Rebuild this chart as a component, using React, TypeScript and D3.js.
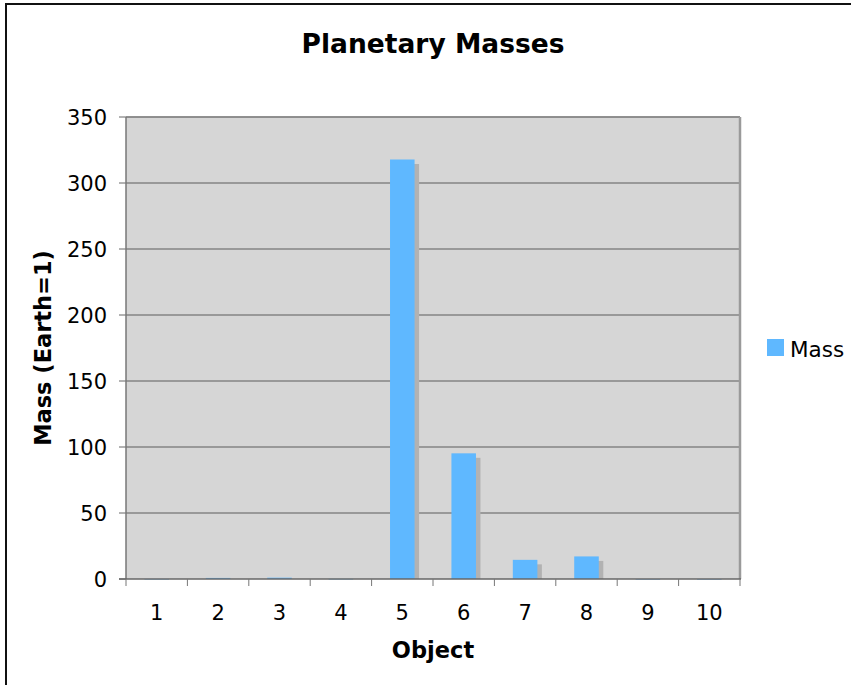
import React from "react";
import * as d3 from "d3";

const categories = ["1", "2", "3", "4", "5", "6", "7", "8", "9", "10"];
const massValues = [0.055, 0.815, 1, 0.107, 317.8, 95.2, 14.5, 17.1, 0.0022, 0.0028];
const yTicks = [0, 50, 100, 150, 200, 250, 300, 350];
const seriesName = "Mass";
const titleText = "Planetary Masses";
const xTitle = "Object";
const yTitle = "Mass (Earth=1)";

const W = 851;
const H = 685;
const plot = { left: 126, right: 740, top: 117, bottom: 579 };
const FONT = "'DejaVu Sans', Verdana, sans-serif";
const BAR = "#5fb8ff";
const SHADOW = "#b2b2b2";

export default function App() {
  const x = d3
    .scaleBand<string>()
    .domain(categories)
    .range([plot.left, plot.right])
    .paddingInner(0.6)
    .paddingOuter(0.3);
  const xCat = d3.scaleBand<string>().domain(categories).range([plot.left, plot.right]);
  const y = d3.scaleLinear().domain([0, 350]).range([plot.bottom, plot.top]);
  const bw = x.bandwidth();
  const cx = (plot.left + plot.right) / 2;
  const cy = (plot.top + plot.bottom) / 2;

  return (
    <svg
      width={W}
      height={H}
      style={{ position: "absolute", left: 0, top: 0, background: "#fff" }}
      fontFamily={FONT}
    >
      <rect x={0} y={0} width={W} height={H} fill="#fff" />
      <rect x={6} y={4} width={W + 20} height={H + 20} fill="none" stroke="#111" strokeWidth={2} />

      <text x={cx} y={53} textAnchor="middle" fontSize={26.5} fontWeight="bold" fill="#000">
        {titleText}
      </text>

      <rect
        x={plot.left}
        y={plot.top}
        width={plot.right - plot.left}
        height={plot.bottom - plot.top}
        fill="#d6d6d6"
      />

      {yTicks.map((t) => (
        <g key={t}>
          {t > 0 && (
            <line x1={plot.left} x2={plot.right} y1={y(t)} y2={y(t)} stroke="#858585" strokeWidth={1.3} />
          )}
          <line x1={plot.left - 7} x2={plot.left} y1={y(t)} y2={y(t)} stroke="#666" strokeWidth={1} />
          <text x={107} y={y(t)} dy="0.36em" textAnchor="end" fontSize={21} fill="#000">
            {t}
          </text>
        </g>
      ))}

      {categories.map((c, i) => (
        <g key={c}>
          <rect
            x={(x(c) as number) + 4.5}
            y={Math.min(y(massValues[i]) + 4.5, plot.bottom)}
            width={bw}
            height={Math.max(0, plot.bottom - y(massValues[i]) - 4.5)}
            fill={SHADOW}
          />
          <rect
            x={x(c) as number}
            y={y(massValues[i])}
            width={bw}
            height={Math.max(plot.bottom - y(massValues[i]), 0.6)}
            fill={BAR}
          />
        </g>
      ))}

      <line x1={plot.left} x2={plot.right} y1={plot.top} y2={plot.top} stroke="#8a8a8a" strokeWidth={1.3} />
      <line x1={plot.right} x2={plot.right} y1={plot.top} y2={plot.bottom} stroke="#9a9a9a" strokeWidth={2.5} />
      <line x1={plot.left} x2={plot.left} y1={plot.top} y2={plot.bottom} stroke="#777" strokeWidth={1.5} />
      <line x1={plot.left - 7} x2={plot.right + 1} y1={plot.bottom} y2={plot.bottom} stroke="#666" strokeWidth={1.5} />

      {categories.map((c) => (
        <g key={"t" + c}>
          <line
            x1={xCat(c) as number}
            x2={xCat(c) as number}
            y1={plot.bottom}
            y2={plot.bottom + 7}
            stroke="#777"
          />
          <text
            x={(xCat(c) as number) + xCat.bandwidth() / 2}
            y={620}
            textAnchor="middle"
            fontSize={21}
            fill="#000"
          >
            {c}
          </text>
        </g>
      ))}
      <line x1={plot.right} x2={plot.right} y1={plot.bottom} y2={plot.bottom + 7} stroke="#777" />

      <text x={cx} y={658} textAnchor="middle" fontSize={22.5} fontWeight="bold" fill="#000">
        {xTitle}
      </text>

      <text
        transform={`translate(51,${cy}) rotate(-90)`}
        textAnchor="middle"
        fontSize={22.5}
        fontWeight="bold"
        fill="#000"
      >
        {yTitle}
      </text>

      <rect x={767} y={339} width={17} height={17} fill={BAR} />
      <text x={790} y={357} fontSize={21.5} fill="#000">
        {seriesName}
      </text>
    </svg>
  );
}
